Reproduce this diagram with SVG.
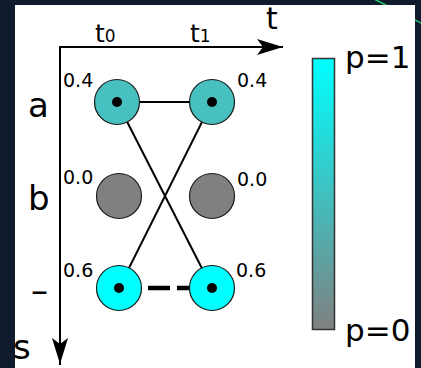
<svg xmlns="http://www.w3.org/2000/svg" width="421" height="368" viewBox="0 0 421 368">
<defs>
<style>
.t{font-family:"DejaVu Sans",sans-serif;fill:#000}
.big{font-size:34px}
.val{font-size:19px}
.node{stroke:#1a1a1a;stroke-width:1.2}
.edge{stroke:#000;stroke-width:2;fill:none}
</style>
<linearGradient id="bar" x1="0" y1="0" x2="0" y2="1">
<stop offset="0" stop-color="#00ffff"/>
<stop offset="1" stop-color="#808080"/>
</linearGradient>
<marker id="ah" viewBox="0 0 26 16" refX="26" refY="8" markerWidth="26" markerHeight="16" markerUnits="userSpaceOnUse" orient="auto">
<path d="M0,0 L26,8 L0,16 L6,8 Z" fill="#000"/>
</marker>
</defs>
<rect width="421" height="368" fill="#0f1b2d"/>
<line x1="372" y1="-2" x2="423" y2="24" stroke="#2ecc71" stroke-width="1.5"/>
<rect x="15" y="5" width="400" height="363" fill="#ffffff"/>
<g id="axes">
<path class="edge" d="M60,365 V47 H283" stroke-width="1.6" marker-end="url(#ah)"/>
<line x1="60" y1="47" x2="60" y2="364" stroke="#000" stroke-width="1.6" marker-end="url(#ah)"/>
<text class="t" x="95" y="42" font-size="25">t<tspan font-size="17">0</tspan></text>
<text class="t" x="190" y="42" font-size="25">t<tspan font-size="17">1</tspan></text>
<text class="t" x="266" y="29" font-size="30">t</text>
<text class="t big" x="13" y="359">s</text>
<text class="t big" x="28" y="117">a</text>
<text class="t big" x="28" y="210">b</text>
<text class="t big" x="31" y="302">–</text>
</g>
<g id="connectors">
<line class="edge" x1="117" y1="102" x2="212" y2="102"/>
<line class="edge" x1="117" y1="102" x2="212" y2="288"/>
<line class="edge" x1="212" y1="102" x2="119" y2="288"/>
<line x1="119" y1="288" x2="212" y2="288" stroke="#000" stroke-width="4.5" stroke-dasharray="18,11,22,7,40"/>
</g>
<g id="a0"><circle class="node" cx="117" cy="102" r="22.5" fill="#48c0c0"/><circle cx="117" cy="102" r="5" fill="#000"/><text class="t val" x="63" y="87">0.4</text></g>
<g id="a1"><circle class="node" cx="212" cy="102" r="22.5" fill="#48c0c0"/><circle cx="212" cy="102" r="5" fill="#000"/><text class="t val" x="237" y="87">0.4</text></g>
<g id="b0"><circle class="node" cx="119" cy="196" r="22.5" fill="#808080"/><text class="t val" x="63" y="184">0.0</text></g>
<g id="b1"><circle class="node" cx="212" cy="196" r="22.5" fill="#808080"/><text class="t val" x="237" y="186">0.0</text></g>
<g id="c0"><circle class="node" cx="119" cy="288" r="22.5" fill="#00ffff"/><circle cx="119" cy="288" r="5" fill="#000"/><text class="t val" x="63" y="277">0.6</text></g>
<g id="c1"><circle class="node" cx="212" cy="288" r="22.5" fill="#00ffff"/><circle cx="212" cy="288" r="5" fill="#000"/><text class="t val" x="236" y="277">0.6</text></g>
<g id="colorbar">
<rect x="312.5" y="58.5" width="22" height="271" fill="url(#bar)" stroke="#333" stroke-width="1.5"/>
<text class="t" x="345" y="68" font-size="31">p=1</text>
<text class="t" x="345" y="341" font-size="31">p=0</text>
</g>
</svg>
